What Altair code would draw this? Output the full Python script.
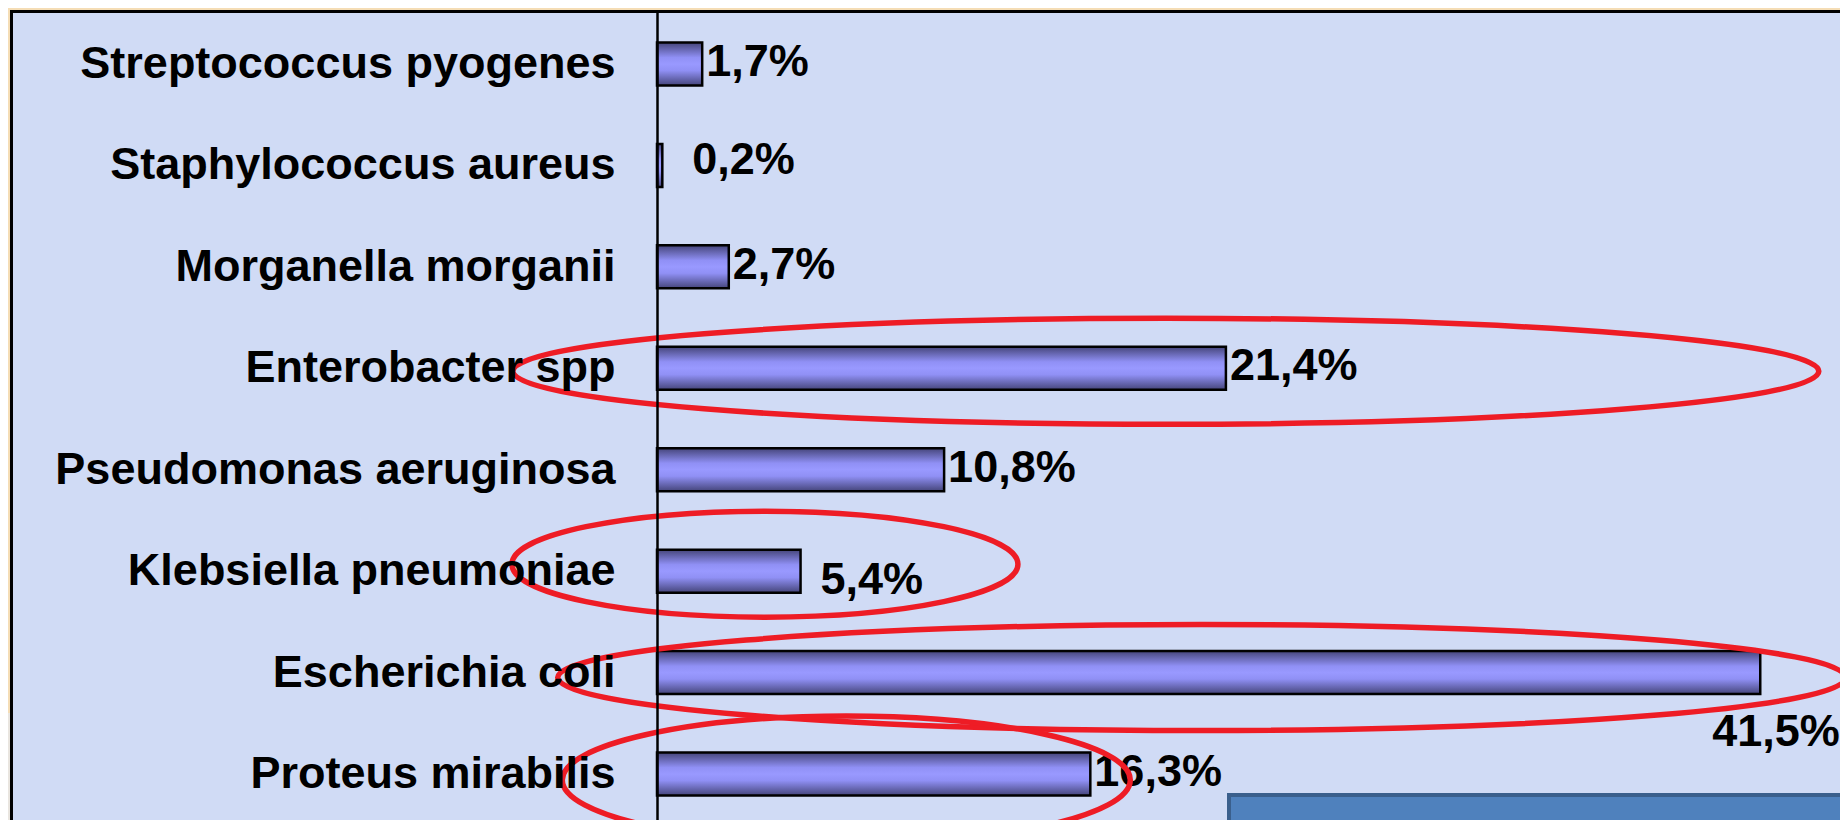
import altair as alt
import pandas as pd

# ---- data ----
categories = [
    "Streptococcus pyogenes",
    "Staphylococcus aureus",
    "Morganella morganii",
    "Enterobacter spp",
    "Pseudomonas aeruginosa",
    "Klebsiella pneumoniae",
    "Escherichia coli",
    "Proteus mirabilis",
]
values = [1.7, 0.2, 2.7, 21.4, 10.8, 5.4, 41.5, 16.3]
value_labels = ["1,7%", "0,2%", "2,7%", "21,4%", "10,8%", "5,4%", "41,5%", "16,3%"]

df = pd.DataFrame({"organism": categories, "pct": values, "label": value_labels})

FONT = "Liberation Sans"
W = 1183
H = 810
XMAX = 44.5

y_enc = alt.Y(
    "organism:N",
    sort=categories,
    scale=alt.Scale(domain=categories, paddingInner=0.576, paddingOuter=0.281, align=0.570),
    axis=alt.Axis(
        title=None,
        labelFont=FONT,
        labelFontSize=45,
        labelFontWeight="bold",
        labelColor="black",
        labelLimit=0,
        labelPadding=42,
        ticks=False,
        tickSize=0,
        grid=False,
        domain=True,
        domainColor="black",
        domainWidth=2.5,
        zindex=1,
    ),
)
x_enc = alt.X("pct:Q", scale=alt.Scale(domain=[0, XMAX], nice=False, zero=True), axis=None)

one = pd.DataFrame({"k": [0]})

# decorative frame (chart area with textured fill)
frame = alt.Chart(one).mark_rect(fill="#D0DBF5", stroke="black", strokeWidth=3).encode(
    x=alt.value(-645.5), x2=alt.value(W + 40), y=alt.value(1.5), y2=alt.value(H + 40)
)
corner = alt.Chart(one).mark_rect(fill="#E9E5DF").encode(
    x=alt.value(-660), x2=alt.value(-647), y=alt.value(703), y2=alt.value(H + 40)
)
blue_box = alt.Chart(one).mark_rect(fill="#4F81BD", stroke="#3A5F8C", strokeWidth=4).encode(
    x=alt.value(572), x2=alt.value(W + 40), y=alt.value(785), y2=alt.value(H + 60)
)

bar_fill = alt.Gradient(
    gradient="linear",
    x1=0, y1=0, x2=0, y2=1,
    stops=[
        alt.GradientStop(offset=0.0, color="#45457A"),
        alt.GradientStop(offset=0.35, color="#9090F5"),
        alt.GradientStop(offset=0.5, color="#9999FF"),
        alt.GradientStop(offset=0.65, color="#9090F5"),
        alt.GradientStop(offset=1.0, color="#45457A"),
    ],
)

base = alt.Chart(df)
bars = base.mark_bar(fill=bar_fill, stroke="black", strokeWidth=2.5).encode(x=x_enc, y=y_enc)


def value_text(names, dx, dy):
    return base.transform_filter(
        alt.FieldOneOfPredicate(field="organism", oneOf=names)
    ).mark_text(
        align="left", baseline="middle", dx=dx, dy=dy,
        font=FONT, fontSize=45, fontWeight="bold", color="black",
    ).encode(x=x_enc, y=y_enc, text="label:N")


txt_normal = value_text(
    ["Streptococcus pyogenes", "Morganella morganii", "Enterobacter spp",
     "Pseudomonas aeruginosa", "Proteus mirabilis"], 4, -2)
txt_staph = value_text(["Staphylococcus aureus"], 30, -5)
txt_kleb = value_text(["Klebsiella pneumoniae"], 20, 9)
txt_coli = value_text(["Escherichia coli"], -48, 59)


def ellipse_path(k):
    c = 0.5523
    return (
        f"M -1 0 C -1 {-k*c:.4f} {-c:.4f} {-k:.4f} 0 {-k:.4f} "
        f"C {c:.4f} {-k:.4f} 1 {-k*c:.4f} 1 0 "
        f"C 1 {k*c:.4f} {c:.4f} {k:.4f} 0 {k:.4f} "
        f"C {-c:.4f} {k:.4f} -1 {k*c:.4f} -1 0 Z"
    )


def ellipse(cat, center_pct, w_px, h_px, y_off):
    d = pd.DataFrame({"organism": [cat], "pct": [center_pct]})
    return alt.Chart(d).mark_point(
        shape=ellipse_path(h_px / w_px), size=w_px ** 2, filled=False,
        opacity=1, yOffset=y_off,
    ).encode(
        x=x_enc, y=y_enc,
        stroke=alt.value("#EE1C25"),
        strokeWidth=alt.value(5.5),
        fill=alt.value(None) if False else alt.value("transparent"),
    )


ellipses = [
    ellipse("Enterobacter spp", 19.14, 1306, 106, 3),
    ellipse("Klebsiella pneumoniae", 4.06, 506, 106, -7),
    ellipse("Escherichia coli", 20.49, 1288, 106, 5),
    ellipse("Proteus mirabilis", 7.12, 568, 128, 6),
]

chart = alt.layer(
    frame, corner, blue_box, bars, txt_normal, txt_staph, txt_kleb, txt_coli, *ellipses
).properties(
    width=W,
    height=H,
    autosize="none",
    padding={"left": 649, "top": 2, "right": 0, "bottom": 0},
    background="#F5DDB5",
).configure_view(strokeWidth=0, fill=None)

chart.save("out.html", embed_options={"renderer": "svg", "actions": False})
